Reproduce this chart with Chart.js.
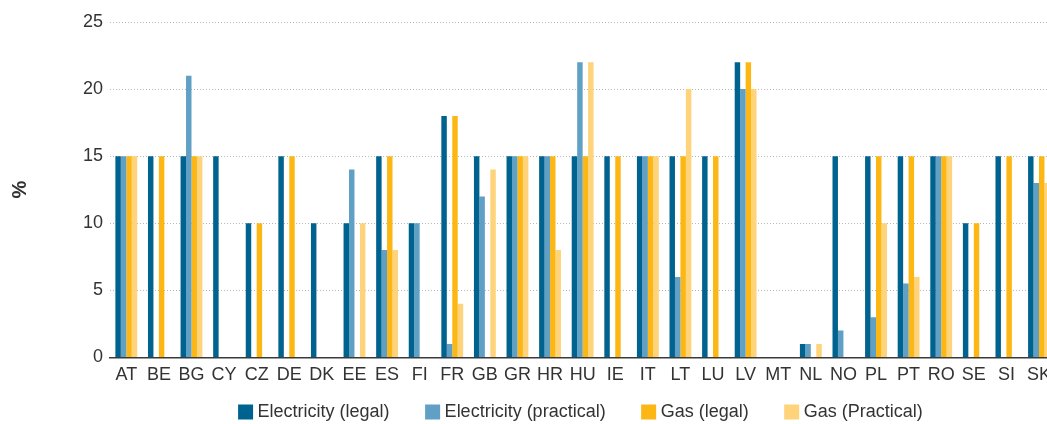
<!DOCTYPE html>
<html>
<head>
<meta charset="utf-8">
<script src="https://cdn.jsdelivr.net/npm/chart.js@4/dist/chart.umd.min.js"></script>
<style>
  html, body { margin: 0; padding: 0; overflow: hidden; background: #fff; }
  #wrap { position: relative; width: 1058px; height: 431px; }
</style>
</head>
<body>
<div id="wrap"><canvas id="chart"></canvas></div>
<script>
var countries = ['AT','BE','BG','CY','CZ','DE','DK','EE','ES','FI','FR','GB','GR','HR','HU','IE','IT','LT','LU','LV','MT','NL','NO','PL','PT','RO','SE','SI','SK'];
var elecLegal     = [15,15,15,15,10,15,10,10,15,10,18,15,15,15,15,15,15,15,15,22,0,1,15,15,15,15,10,15,15];
var elecPractical = [15,0,21,0,0,0,0,14,8,10,1,12,15,15,22,0,15,6,0,20,0,1,2,3,5.5,15,0,0,13];
var gasLegal      = [15,15,15,0,10,15,0,0,15,0,18,0,15,15,15,15,15,15,15,22,0,0,0,15,15,15,10,15,15];
var gasPractical  = [15,0,15,0,0,0,0,10,8,0,4,14,15,8,22,0,15,20,0,20,0,1,0,10,6,15,0,0,13];
var yTicks = [0,5,10,15,20,25];

var font = "'Liberation Sans Narrow', 'Arial Narrow', 'Liberation Sans', Arial, sans-serif";
Chart.defaults.font.family = font;
Chart.defaults.font.size = 18;
Chart.defaults.color = '#333';

// trailing spaces only widen the gap between legend entries
var gap = '      ';

new Chart(document.getElementById("chart"),
        {
          type: 'bar',
          data:
          {
            labels: countries,
            datasets:
            [
              { label: 'Electricity (legal)' + gap, data: elecLegal, backgroundColor: '#00628f' },
              { label: 'Electricity (practical)' + gap, data: elecPractical, backgroundColor: '#5fa0c4' },
              { label: 'Gas (legal)' + gap, data: gasLegal, backgroundColor: '#fcb715' },
              { label: 'Gas (Practical)', data: gasPractical, backgroundColor: '#fed37a' }
            ]
          },
          options:
          {
            responsive: true,
            maintainAspectRatio: false,
            animation: false,
            layout: { padding: { top: 22, left: 0, right: 0, bottom: 0 } },
            datasets: { bar: { categoryPercentage: 0.67, barPercentage: 1, borderWidth: 0 } },
            plugins:
            {
              tooltip: { enabled: false },
              legend:
              {
                position: 'bottom',
                fullSize: false,
                labels:
                {
                  usePointStyle: true,
                  pointStyle: 'rect',
                  boxWidth: 6,
                  boxHeight: 15,
                  padding: 10,
                  color: '#333'
                }
              }
            },
            scales:
            {
              x:
              {
                grid: { display: true, color: 'transparent', drawTicks: false },
                border: { display: true, color: '#3a3a3a', width: 1.5 },
                ticks: { padding: 7, maxRotation: 0, autoSkip: false }
              },
              y:
              {
                min: 0,
                max: 25,
                afterBuildTicks: function(s) { s.ticks = yTicks.map(function(v) { return { value: v }; }); },
                afterFit: function(s) { s.width = 110; },
                grid:
                {
                  drawTicks: false,
                  lineWidth: 1,
                  color: function(c) { return c.tick && c.tick.value === 0 ? 'transparent' : '#b8b8b8'; }
                },
                border: { display: false, dash: [1, 2] },
                ticks: { padding: 7 },
                title:
                {
                  display: true,
                  text: '%',
                  font: { size: 20, weight: 'bold' },
                  padding: { top: 8, bottom: 0 }
                }
              }
            }
          }
        });
</script>
</body>
</html>
